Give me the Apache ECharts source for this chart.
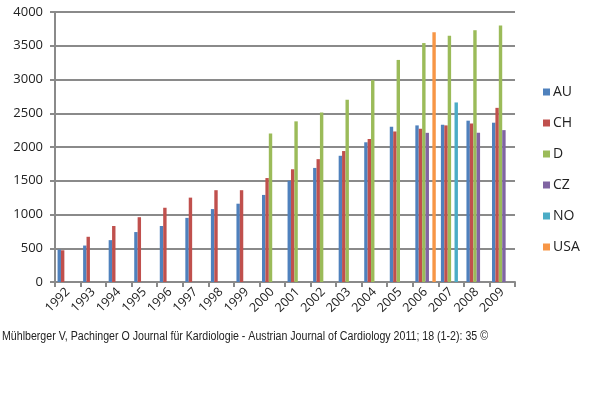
<!DOCTYPE html>
<html>
<head>
<meta charset="utf-8">
<script src="https://cdn.jsdelivr.net/npm/echarts@6/dist/echarts.min.js"></script>
<style>
  html, body { margin: 0; padding: 0; background: #fff; }
  #chart { width: 600px; height: 397px; }
</style>
</head>
<body>
<div id="chart"></div>
<script>
const years = ['1992', '1993', '1994', '1995', '1996', '1997', '1998', '1999', '2000',
  '2001', '2002', '2003', '2004', '2005', '2006', '2007', '2008', '2009'];

// null = no bar for that year
const auValues = [480, 540, 620, 740, 830, 950, 1080, 1160, 1290, 1500, 1690, 1870, 2070, 2300, 2320, 2330, 2390, 2360];
const chValues = [470, 670, 830, 960, 1100, 1250, 1360, 1360, 1540, 1670, 1820, 1940, 2120, 2230, 2270, 2320, 2350, 2580];
const dValues = [null, null, null, null, null, null, null, null, 2200, 2380, 2510, 2700, 2990, 3290, 3540, 3650, 3730, 3800];
const czValues = [null, null, null, null, null, null, null, null, null, null, null, null, null, null, 2210, null, 2210, 2250];
const noValues = [null, null, null, null, null, null, null, null, null, null, null, null, null, null, null, 2660, null, null];
const usaValues = [null, null, null, null, null, null, null, null, null, null, null, null, null, null, 3700, null, null, null];

const seriesNames = ['AU', 'CH', 'D', 'CZ', 'NO', 'USA'];
const seriesColors = ['#4F81BD', '#C0504D', '#9BBB59', '#8064A2', '#4BACC6', '#F79646'];
const allValues = [auValues, chValues, dValues, czValues, noValues, usaValues];

const footerText = 'Mühlberger V, Pachinger O Journal für Kardiologie - Austrian Journal of Cardiology 2011; 18 (1-2): 35 ©';

const chart = echarts.init(document.getElementById('chart'));

chart.setOption({
  animation: false,
  textStyle: { fontFamily: '"Open Sans", sans-serif' },
  graphic: [{
    type: 'text',
    left: 2,
    top: 331,
    scaleX: 0.885,
    style: {
      text: footerText,
      font: '12px "Liberation Sans", sans-serif',
      fill: '#222'
    }
  }],
  legend: {
    orient: 'vertical',
    left: 538,
    top: 80,
    icon: 'rect',
    itemWidth: 7,
    itemHeight: 7,
    itemGap: 17,
    data: seriesNames,
    textStyle: { fontSize: 14, color: '#222', lineHeight: 14, padding: [0, 0, 0, -2] }
  },
  grid: { left: 55, right: 85, top: 12, bottom: 115, containLabel: false },
  xAxis: {
    type: 'category',
    data: years,
    axisLine: { lineStyle: { color: '#8a8a8a', width: 2 } },
    axisTick: { show: true, length: 5, lineStyle: { color: '#8a8a8a', width: 2 } },
    axisLabel: { rotate: 45, fontSize: 12.5, color: '#222', margin: 8 }
  },
  yAxis: {
    type: 'value',
    min: 0,
    max: 4000,
    interval: 500,
    axisLine: { show: true, lineStyle: { color: '#8a8a8a', width: 2 } },
    axisTick: { show: true, length: 5, lineStyle: { color: '#8a8a8a', width: 2 } },
    axisLabel: { fontSize: 13, color: '#222', margin: 12, formatter: (v) => String(v) },
    splitLine: { lineStyle: { color: '#8a8a8a', width: 2 } }
  },
  series: seriesNames.map((name, i) => ({
    name: name,
    type: 'bar',
    data: allValues[i],
    barGap: '0%',
    barCategoryGap: '20%',
    itemStyle: { color: seriesColors[i] }
  }))
});
</script>
</body>
</html>
